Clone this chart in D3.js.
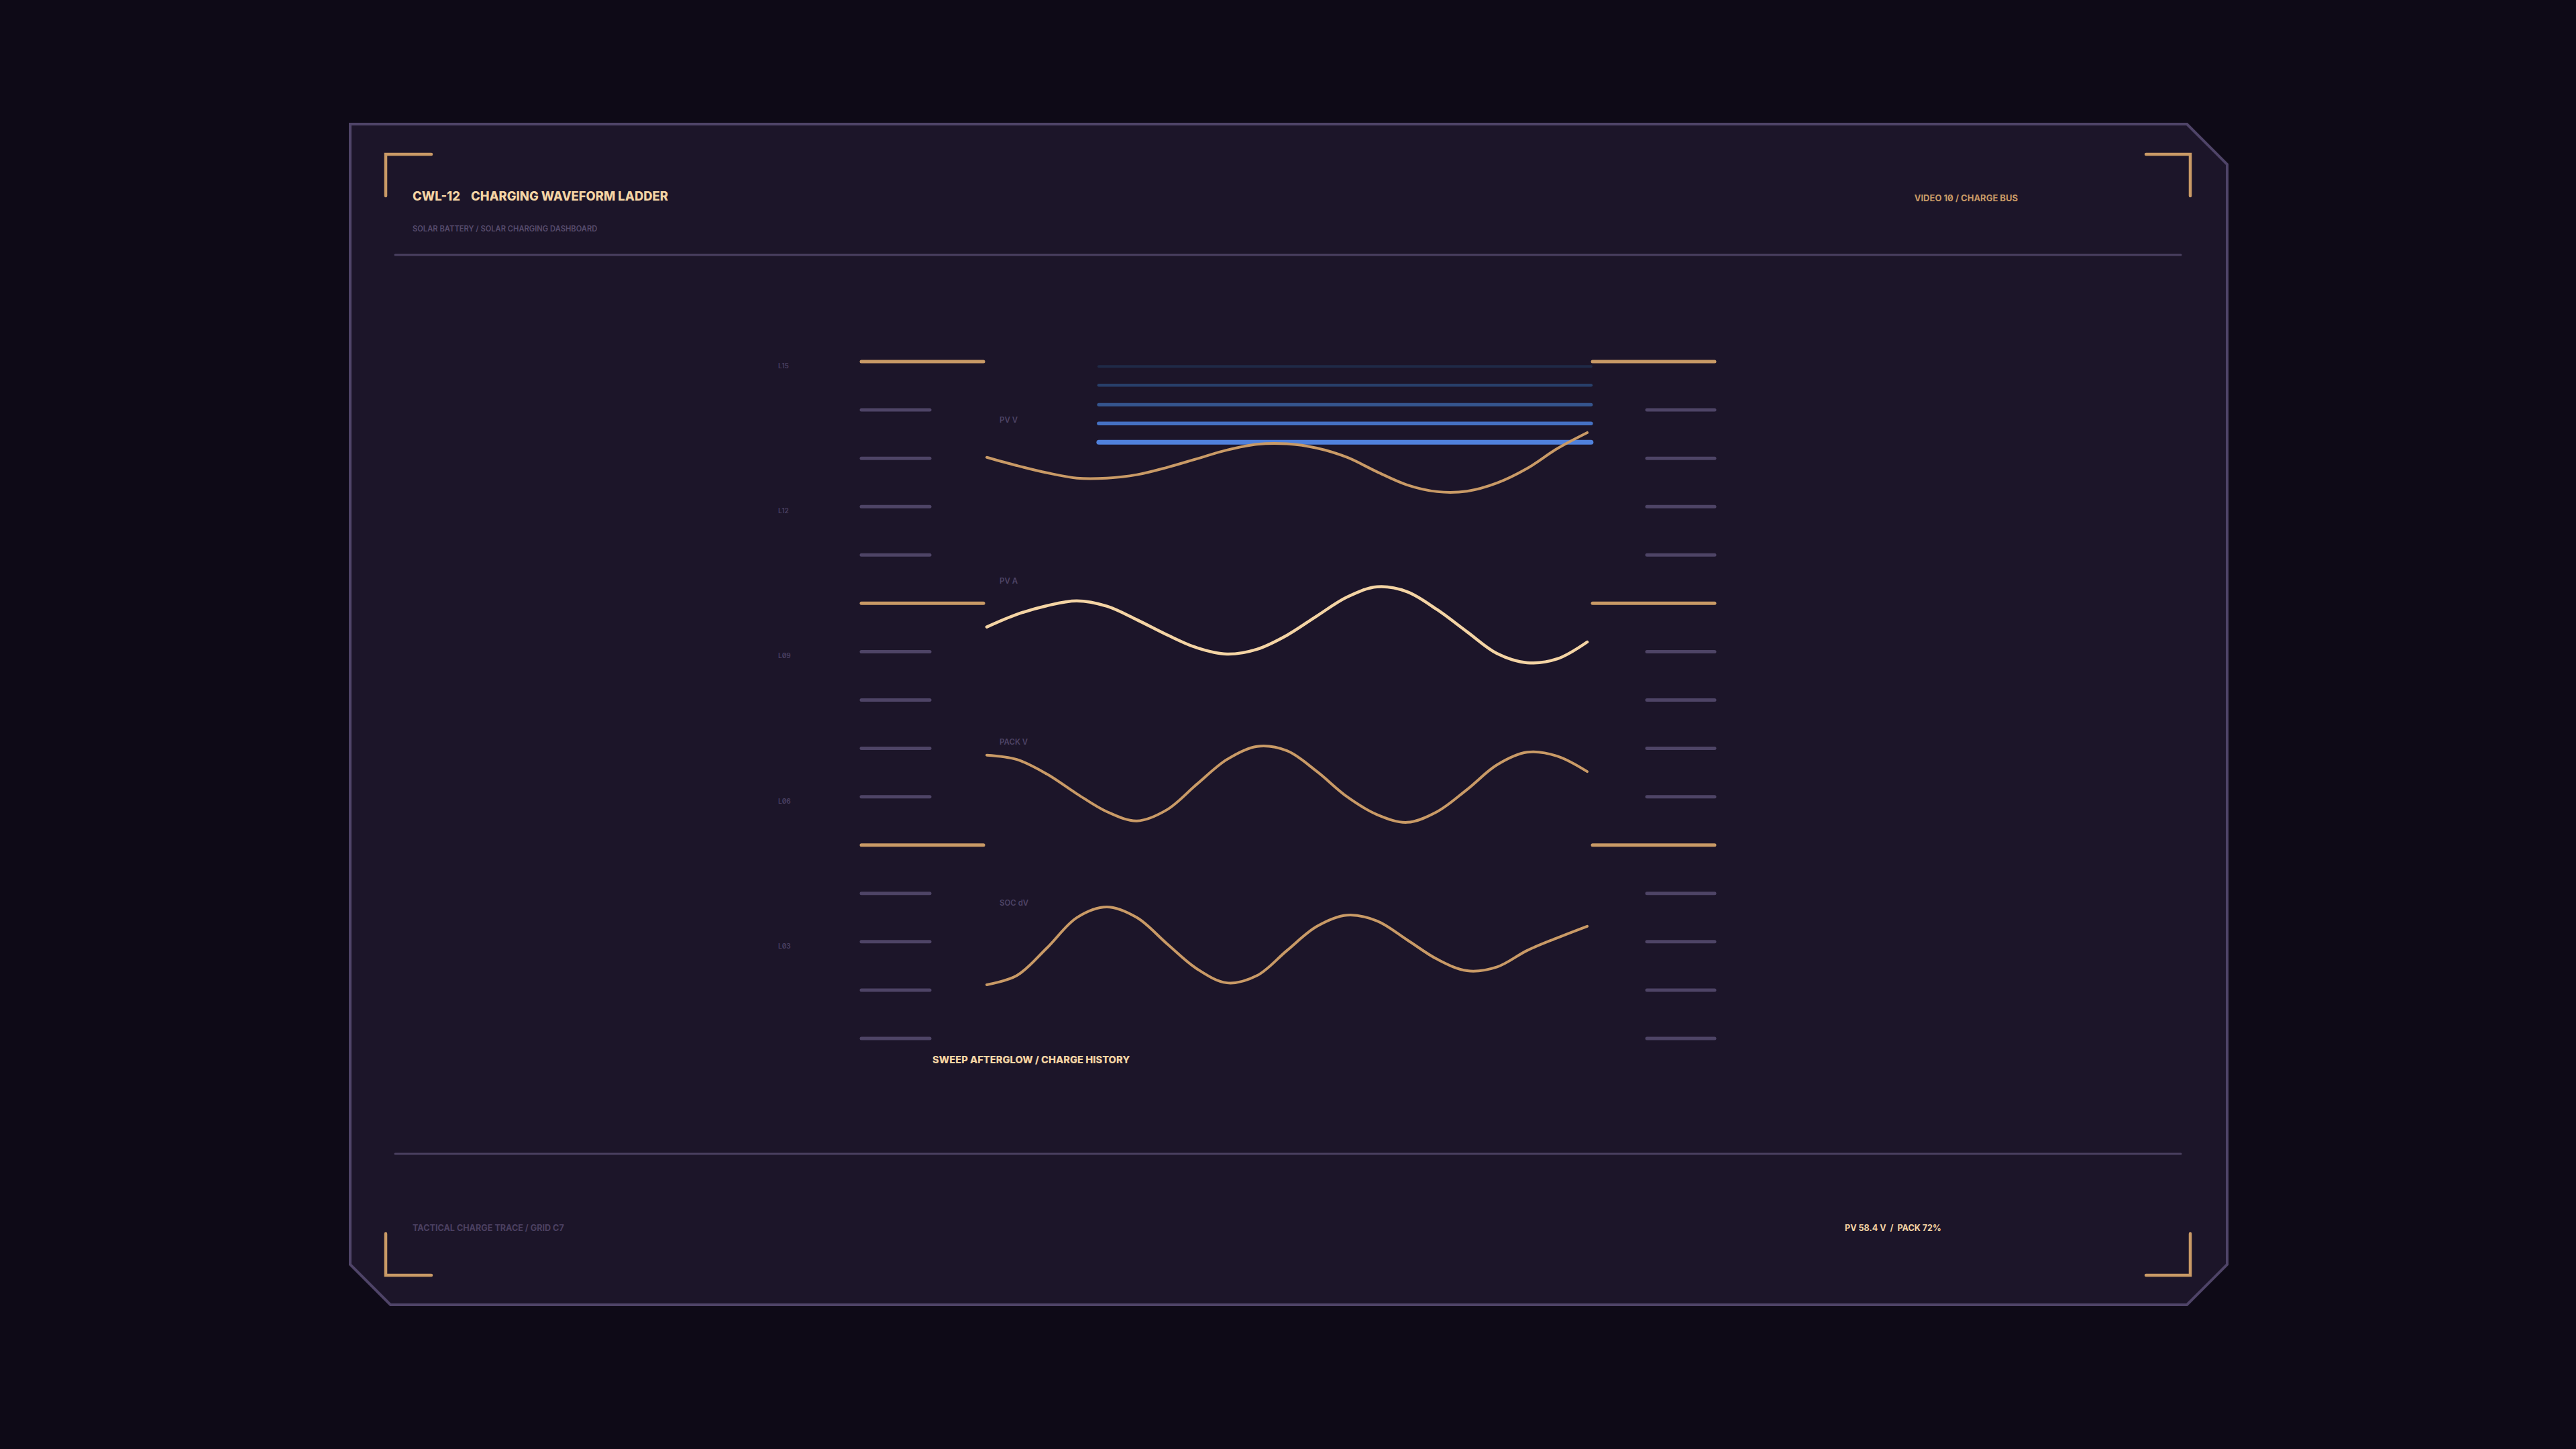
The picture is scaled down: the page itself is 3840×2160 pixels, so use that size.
<!DOCTYPE html>
<html>
<head>
<meta charset="utf-8">
<script src="https://cdn.jsdelivr.net/npm/d3@7"></script>
<style>
  html, body { margin: 0; padding: 0; background: #0e0a17; }
  svg { display: block; }
  text { font-family: Inter, "Noto Sans", sans-serif; }
</style>
</head>
<body>
<div id="canvas"></div>
<script>
var width = 3840,
	height = 2160;

// ladder levels, top to bottom
var levels = d3.range(15, 0, -1);
var majorLevels = [15, 10, 5];
var labelLevels = [15, 12, 9, 6, 3];

// trace names and samples (ladder level units, 21 samples across the sweep)
var traceNames = ['PV V', 'PV A', 'PACK V', 'SOC dV'];
var pvV = [13.02, 12.85, 12.70, 12.59, 12.59, 12.66, 12.81, 12.99, 13.17, 13.29, 13.30,
	13.21, 13.02, 12.72, 12.45, 12.31, 12.32, 12.49, 12.79, 13.20, 13.53];
var pvA = [9.51, 9.77, 9.95, 10.05, 9.94, 9.66, 9.35, 9.08, 8.95, 9.05, 9.34,
	9.74, 10.13, 10.34, 10.24, 9.87, 9.41, 8.96, 8.77, 8.85, 9.20];
var packV = [6.86, 6.77, 6.47, 6.06, 5.69, 5.50, 5.73, 6.26, 6.77, 7.04, 6.95,
	6.52, 6.00, 5.63, 5.47, 5.69, 6.15, 6.66, 6.92, 6.84, 6.52];
var socDV = [2.11, 2.30, 2.87, 3.50, 3.72, 3.50, 2.96, 2.44, 2.15, 2.30, 2.82,
	3.32, 3.55, 3.43, 3.04, 2.64, 2.40, 2.48, 2.82, 3.08, 3.32];
var traceLabelLevels = [13.74, 10.41, 7.08, 3.75];

// afterglow history (older -> newest)
var glowLevels = [14.90, 14.51, 14.11, 13.72, 13.33];
var glowSpan = [3.73, 20.13];

var traces = [pvV, pvA, packV, socDV];
var traceColors = ['#c99a66', '#f4d4a4', '#c99a66', '#c99a66'];
var glowColors = ['#1f2a47', '#283f6a', '#35558e', '#4571c3', '#5081dc'];
var glowWidths = [4, 4.5, 5, 5.5, 7];

var x = d3.scaleLinear().domain([0, 20]).range([1471, 2366]);
var y = d3.scaleLinear().domain([15, 1]).range([539, 1548]);

var svg = d3.select('#canvas')
	.append('svg')
	.attr('width', width)
	.attr('height', height);

svg.append('rect')
	.attr('width', width)
	.attr('height', height)
	.attr('fill', '#0e0a17');

// outer frame with chamfered corners
var fl = 522, ft = 185, fr = 3320, fb = 1945, ch = 60;
svg.append('path')
	.attr('d', `M${fl},${ft}L${fr - ch},${ft}L${fr},${ft + ch}L${fr},${fb - ch}L${fr - ch},${fb}L${fl + ch},${fb}L${fl},${fb - ch}Z`)
	.attr('fill', '#1c1529')
	.attr('stroke', '#4f4468')
	.attr('stroke-width', 4);

// corner brackets
var brackets = [
	`M575,292L575,230L643,230`,
	`M3199,230L3265,230L3265,292`,
	`M575,1839L575,1901L643,1901`,
	`M3199,1901L3265,1901L3265,1839`
];
svg.selectAll('.bracket')
	.data(brackets)
	.enter().append('path')
	.attr('class', 'bracket')
	.attr('d', d => d)
	.attr('fill', 'none')
	.attr('stroke', '#c99a66')
	.attr('stroke-width', 4.5)
	.attr('stroke-linecap', 'round');

// dividers
svg.selectAll('.divider')
	.data([380, 1720])
	.enter().append('line')
	.attr('class', 'divider')
	.attr('x1', 589).attr('x2', 3251)
	.attr('y1', d => d).attr('y2', d => d)
	.attr('stroke', '#4a4060')
	.attr('stroke-width', 3)
	.attr('stroke-linecap', 'round');

// header
svg.append('text')
	.attr('x', 615).attr('y', 299)
	.attr('font-size', 18.4).attr('font-weight', 800)
	.attr('fill', '#f4d4a4')
	.text('CWL-12');
svg.append('text')
	.attr('x', 702).attr('y', 299)
	.attr('font-size', 18.4).attr('font-weight', 800)
	.attr('fill', '#f4d4a4')
	.text('CHARGING WAVEFORM LADDER');
svg.append('text')
	.attr('x', 615).attr('y', 345)
	.attr('font-size', 11.2).attr('font-weight', 600)
	.attr('fill', '#564b6c')
	.text('SOLAR BATTERY / SOLAR CHARGING DASHBOARD');
svg.append('text')
	.attr('x', 3008).attr('y', 300)
	.attr('text-anchor', 'end')
	.attr('font-size', 13).attr('font-weight', 700)
	.attr('fill', '#c99a66')
	.style('font-feature-settings', '"zero"')
	.text('VIDEO 10 / CHARGE BUS');

// footer
svg.append('text')
	.attr('x', 615).attr('y', 1835)
	.attr('font-size', 12.6).attr('font-weight', 700)
	.attr('fill', '#4b4061')
	.text('TACTICAL CHARGE TRACE / GRID C7');
svg.append('text')
	.attr('x', 2750).attr('y', 1835)
	.attr('font-size', 12.6).attr('font-weight', 700)
	.attr('fill', '#f4d4a4')
	.style('white-space', 'pre')
	.text('PV 58.4 V  /  PACK 72%');

// ladder ticks, both sides
var isMajor = d => majorLevels.indexOf(d) >= 0;
var ladder = svg.append('g');
ladder.selectAll('.tick-l')
	.data(levels)
	.enter().append('line')
	.attr('x1', 1284)
	.attr('x2', d => isMajor(d) ? 1466 : 1386)
	.attr('y1', d => y(d)).attr('y2', d => y(d))
	.attr('stroke', d => isMajor(d) ? '#c99a66' : '#4e4466')
	.attr('stroke-width', 5)
	.attr('stroke-linecap', 'round');
ladder.selectAll('.tick-r')
	.data(levels)
	.enter().append('line')
	.attr('x1', d => isMajor(d) ? 2374 : 2455)
	.attr('x2', 2556)
	.attr('y1', d => y(d)).attr('y2', d => y(d))
	.attr('stroke', d => isMajor(d) ? '#c99a66' : '#4e4466')
	.attr('stroke-width', 5)
	.attr('stroke-linecap', 'round');
ladder.selectAll('.lvl')
	.data(labelLevels)
	.enter().append('text')
	.attr('x', 1160)
	.attr('y', d => y(d) + 10)
	.attr('font-size', 10).attr('font-weight', 600)
	.attr('fill', '#4b4061')
	.style('font-feature-settings', '"zero"')
	.text(d => 'L' + String(d).padStart(2, '0'));

// afterglow sweep history
svg.selectAll('.glow')
	.data(glowLevels)
	.enter().append('line')
	.attr('x1', x(glowSpan[0])).attr('x2', x(glowSpan[1]))
	.attr('y1', d => y(d)).attr('y2', d => y(d))
	.attr('stroke', (d, i) => glowColors[i])
	.attr('stroke-width', (d, i) => glowWidths[i])
	.attr('stroke-linecap', 'round');

// traces
var line = d3.line()
	.x((d, i) => x(i))
	.y(d => y(d))
	.curve(d3.curveCatmullRom);

svg.selectAll('.trace')
	.data(traces)
	.enter().append('path')
	.attr('d', line)
	.attr('fill', 'none')
	.attr('stroke', (d, i) => traceColors[i])
	.attr('stroke-width', (d, i) => i == 1 ? 4.5 : 4)
	.attr('stroke-linecap', 'round')
	.attr('stroke-linejoin', 'round');

svg.selectAll('.trace-label')
	.data(traceNames)
	.enter().append('text')
	.attr('x', 1490)
	.attr('y', (d, i) => y(traceLabelLevels[i]))
	.attr('font-size', 11.5).attr('font-weight', 600)
	.attr('fill', '#4e4466')
	.text(d => d);

svg.append('text')
	.attr('x', 1390).attr('y', 1585)
	.attr('font-size', 14.7).attr('font-weight', 800)
	.attr('fill', '#f4d4a4')
	.text('SWEEP AFTERGLOW / CHARGE HISTORY');
</script>
</body>
</html>
